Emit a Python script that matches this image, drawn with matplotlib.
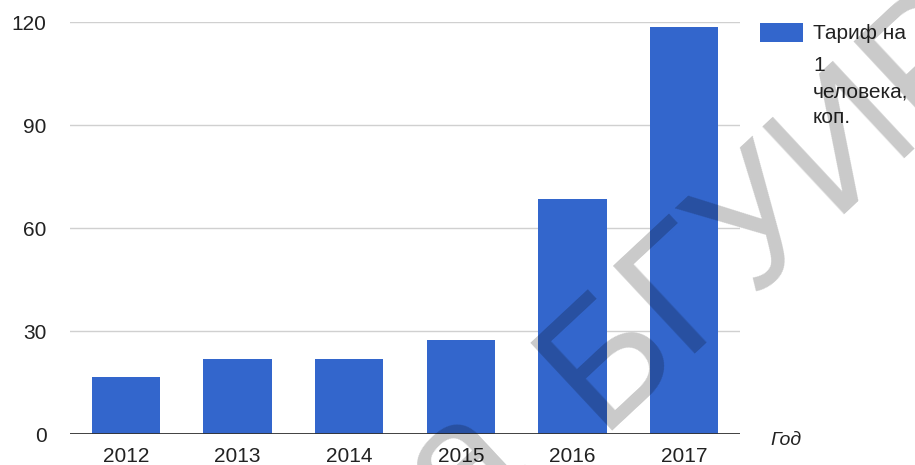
import matplotlib.pyplot as plt

# Data
years = ['2012', '2013', '2014', '2015', '2016', '2017']
tariff = [16.5, 21.7, 21.7, 27.5, 68.5, 118.5]
label_first = 'Тариф на'
label_rest = '1\nчеловека,\nкоп.'
y_ticks = [0, 30, 60, 90, 120]

plt.rcParams['font.family'] = ['Liberation Sans', 'DejaVu Sans']

W, H = 915, 465
fig = plt.figure(figsize=(W / 100, H / 100), dpi=100)
ax = fig.add_axes([70 / W, 31 / H, 670 / W, 412 / H])

ax.bar(years, tariff, width=0.61, color='#3366cc', label=label_first, zorder=2)

ax.set_ylim(0, 120)
ax.set_xlim(-0.5, len(years) - 0.5)
ax.set_yticks(y_ticks)
ax.yaxis.grid(True, color='#d0d0d0', linewidth=1)
ax.set_axisbelow(True)
ax.axhline(0, color='#333333', linewidth=1.3, zorder=3)
for s in ax.spines.values():
    s.set_visible(False)
ax.tick_params(length=0, labelsize=15, colors='#222222')
ax.tick_params(axis='y', pad=17)
ax.tick_params(axis='x', pad=9)

ax.annotate('Год', xy=(1.0, 0.0), xycoords='axes fraction',
            xytext=(30, -6), textcoords='offset pixels',
            style='italic', fontsize=14, color='#222222', va='center', ha='left')

leg = ax.legend(loc='upper left', bbox_to_anchor=(760 / W, 1 - 23 / H),
                bbox_transform=fig.transFigure, frameon=False,
                fontsize=15, handlelength=2.05, handleheight=1.0,
                handletextpad=0.5, borderaxespad=0, borderpad=0)
leg.get_texts()[0].set_color('#222222')

# rest of the wrapped legend label, aligned under the first line
fig.canvas.draw()
bb = leg.get_texts()[0].get_window_extent()
fig.text(bb.x0 / W, (bb.y0 - 13) / H, label_rest, fontsize=15, color='#222222',
         ha='left', va='top', linespacing=1.45)

# faint diagonal watermark
wm = dict(fontsize=125, color=(0, 0, 0, 0.21), rotation=43,
          rotation_mode='anchor', va='baseline', zorder=10)
fig.text(598 / W, 34 / H, 'БГУИР', ha='left', **wm)
fig.text(530 / W, -2 / H, 'а', ha='right', **wm)

fig.savefig('out.png', dpi=100)
